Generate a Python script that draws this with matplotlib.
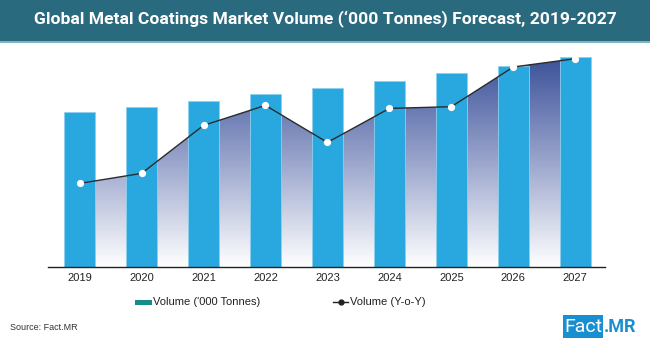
import matplotlib
matplotlib.use("Agg")
import matplotlib.pyplot as plt
import numpy as np
from matplotlib.colors import LinearSegmentedColormap
from matplotlib.patches import Rectangle
from matplotlib.lines import Line2D

plt.rcParams['font.family'] = ['Liberation Sans', 'DejaVu Sans']

# data (same arbitrary scale for both series)
years = ['2019', '2020', '2021', '2022', '2023', '2024', '2025', '2026', '2027']
volume = [154.6, 160.3, 166.3, 173.0, 179.3, 186.3, 193.6, 201.3, 210.0]
yoy = [83.6, 93.6, 141.6, 161.6, 124.6, 158.6, 160.3, 200.0, 208.3]

W, H = 650, 344
fig = plt.figure(figsize=(W / 100, H / 100), dpi=100)
fig.patch.set_facecolor('white')

# header band
fig.patches.append(Rectangle((0, 1 - 41 / H), 1, 41 / H, transform=fig.transFigure,
                             facecolor='#2a6a7f', edgecolor='none', zorder=0))
fig.patches.append(Rectangle((0, 1 - 43 / H), 1, 2 / H, transform=fig.transFigure,
                             facecolor='#7fb3c2', edgecolor='none', zorder=0))
fig.text(0.5, 1 - 20 / H, "Global Metal Coatings Market Volume (\u2018000 Tonnes) Forecast, 2019-2027",
         ha='center', va='center', color='white', fontsize=12.6, fontweight='bold',
         family=['Roboto', 'DejaVu Sans'])

ax = fig.add_axes([48 / W, 1 - 267 / H, (605 - 48) / W, (267 - 50) / H])
x = np.arange(len(years))
ax.set_xlim(-0.51, 8.48)
ax.set_ylim(0, 217)

# gradient area under the Y-o-Y line
cmap = LinearSegmentedColormap.from_list('grad', ['#ffffff', '#9aa5cc', '#3a4f98'])
grad = np.linspace(0, 1, 256).reshape(-1, 1)
img = ax.imshow(grad, extent=[-0.51, 8.48, 0, 212], origin='lower', aspect='auto',
                cmap=cmap, zorder=1)
poly = ax.fill_between(x, yoy, 0, facecolor='none', edgecolor='none')
img.set_clip_path(poly.get_paths()[0], transform=ax.transData)

ax.bar(x, volume, width=0.5, color='#29a8e0', edgecolor='#8fd0ee', linewidth=0.6, zorder=2)
ax.plot(x, yoy, color='#2b2b2b', linewidth=1.0, zorder=3)
ax.plot(x, yoy, linestyle='none', marker='o', markersize=4.2, markerfacecolor='white',
        markeredgecolor='white', zorder=4)

for s in ['top', 'right', 'left']:
    ax.spines[s].set_visible(False)
ax.spines['bottom'].set_color('#222222')
ax.spines['bottom'].set_linewidth(1.0)
ax.set_yticks([])
ax.set_xticks(x)
ax.set_xticklabels(years, fontsize=8, color='#222222')
ax.tick_params(axis='x', length=0, pad=4)

# legend
fig.patches.append(Rectangle((135 / W, 1 - 305 / H), 17 / W, 5 / H, transform=fig.transFigure,
                             facecolor='#168c8c', edgecolor='none'))
fig.text(153 / W, 1 - 302 / H, "Volume ('000 Tonnes)", fontsize=8, va='center', color='#222222')
fig.lines.append(Line2D([333 / W, 348 / W], [1 - 302 / H, 1 - 302 / H], transform=fig.transFigure,
                        color='#222222', linewidth=1.0))
fig.lines.append(Line2D([340.5 / W], [1 - 302 / H], transform=fig.transFigure, marker='o',
                        markersize=3.5, color='#222222', linestyle='none'))
fig.text(350 / W, 1 - 302 / H, "Volume (Y-o-Y)", fontsize=8, va='center', color='#222222')

fig.text(10 / W, 1 - 327 / H, "Source: Fact.MR", fontsize=6.5, va='center', color='#333333')

# logo
fig.patches.append(Rectangle((563 / W, 1 - 338 / H), 40 / W, 23 / H, transform=fig.transFigure,
                             facecolor='#1a8fd0', edgecolor='none'))
fig.text(583 / W, 1 - 326.5 / H, "Fact", fontsize=14, ha='center', va='center', color='white',
         family=['Roboto', 'DejaVu Sans'])
fig.text(604 / W, 1 - 326.5 / H, ".MR", fontsize=13, ha='left', va='center', color='#1a8fd0',
         fontweight='bold', family=['Roboto', 'DejaVu Sans'])

fig.savefig('out.png', dpi=100)
